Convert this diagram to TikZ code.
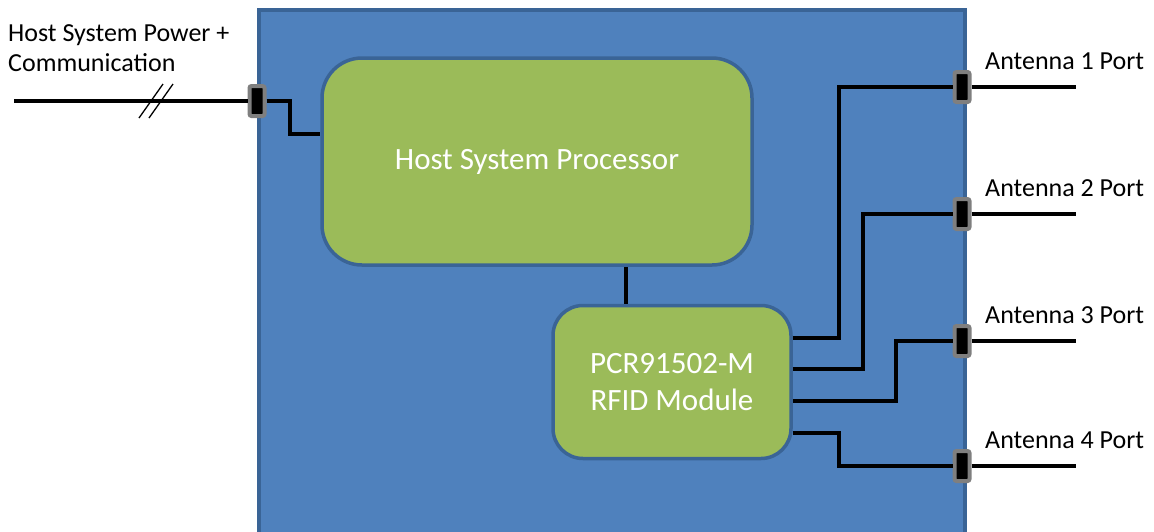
\documentclass[tikz,border=0pt]{standalone}
\usepackage{fontspec}
\setmainfont{Carlito}
\usepackage{tikz}
\usetikzlibrary{calc}

\definecolor{boardblue}{HTML}{4F81BD}
\definecolor{edgeblue}{HTML}{3A6496}
\definecolor{boxgreen}{HTML}{9BBB59}
\definecolor{portgray}{HTML}{7F7F7F}

\tikzset{
  block/.style={draw=edgeblue, fill=boxgreen, line width=3.5pt, text=white, align=center, font=\fontsize{31}{37}\selectfont},
  port/.style={draw=portgray, fill=black, line width=4pt, rounded corners=2pt, minimum width=15pt, minimum height=30pt, inner sep=0pt},
  wire/.style={line width=4.2pt},
  portlabel/.style={font=\fontsize{26}{30}\selectfont, anchor=west, inner sep=0pt}
}

\begin{document}
\begin{tikzpicture}[x=1pt, y=-1pt]
  \useasboundingbox (0,0) rectangle (1154,531);

  % Draw board
  \draw[fill=boardblue, draw=edgeblue, line width=3.5pt] (259,10) rectangle (965,545);

  % Draw blocks
  \node[block, rounded corners=40pt, minimum width=430pt, minimum height=207pt] (host) at (537,161.5) {Host System Processor};
  \node[block, rounded corners=30pt, minimum width=238pt, minimum height=153pt] (rfid) at (672,382) {PCR91502-M\\RFID Module};
  \draw[wire] (626,0 |- host.south) -- (626,0 |- rfid.north);

  % Host connection
  \node[portlabel, align=left] (hostlabel) at (8,48) {Host System Power +\\Communication};
  \node[port] (hostport) at (257,101) {};
  \coordinate (hoststart) at (14,101);
  \draw[wire] (hoststart) -- (hostport.west);
  \draw[line width=1.3pt] (139,118) -- (163,84) (149,118) -- (173,84);
  \draw[wire] (hostport.east) -| (290,134) -- (host.west |- 290,134);

  % Antenna ports
  \foreach \i/\y in {1/87, 2/214, 3/341, 4/466} {
    \node[port] (ant\i) at (962,\y) {};
    \coordinate (end\i) at (1076,\y);
    \draw[wire] (ant\i.east) -- (end\i);
    \node[portlabel] (label\i) at ($(ant\i)+(23,-26)$) {Antenna \i\ Port};
  }

  % Module outputs
  \coordinate (o1) at (rfid.east |- 0,338);
  \coordinate (o2) at (rfid.east |- 0,369);
  \coordinate (o3) at (rfid.east |- 0,401);
  \coordinate (o4) at (rfid.east |- 0,433);
  \draw[wire] (o1) -- ++(46,0) |- (ant1.west);
  \draw[wire] (o2) -- ++(70,0) |- (ant2.west);
  \draw[wire] (o3) -- ++(103,0) |- (ant3.west);
  \draw[wire] (o4) -- ++(46,0) |- (ant4.west);
\end{tikzpicture}
\end{document}
